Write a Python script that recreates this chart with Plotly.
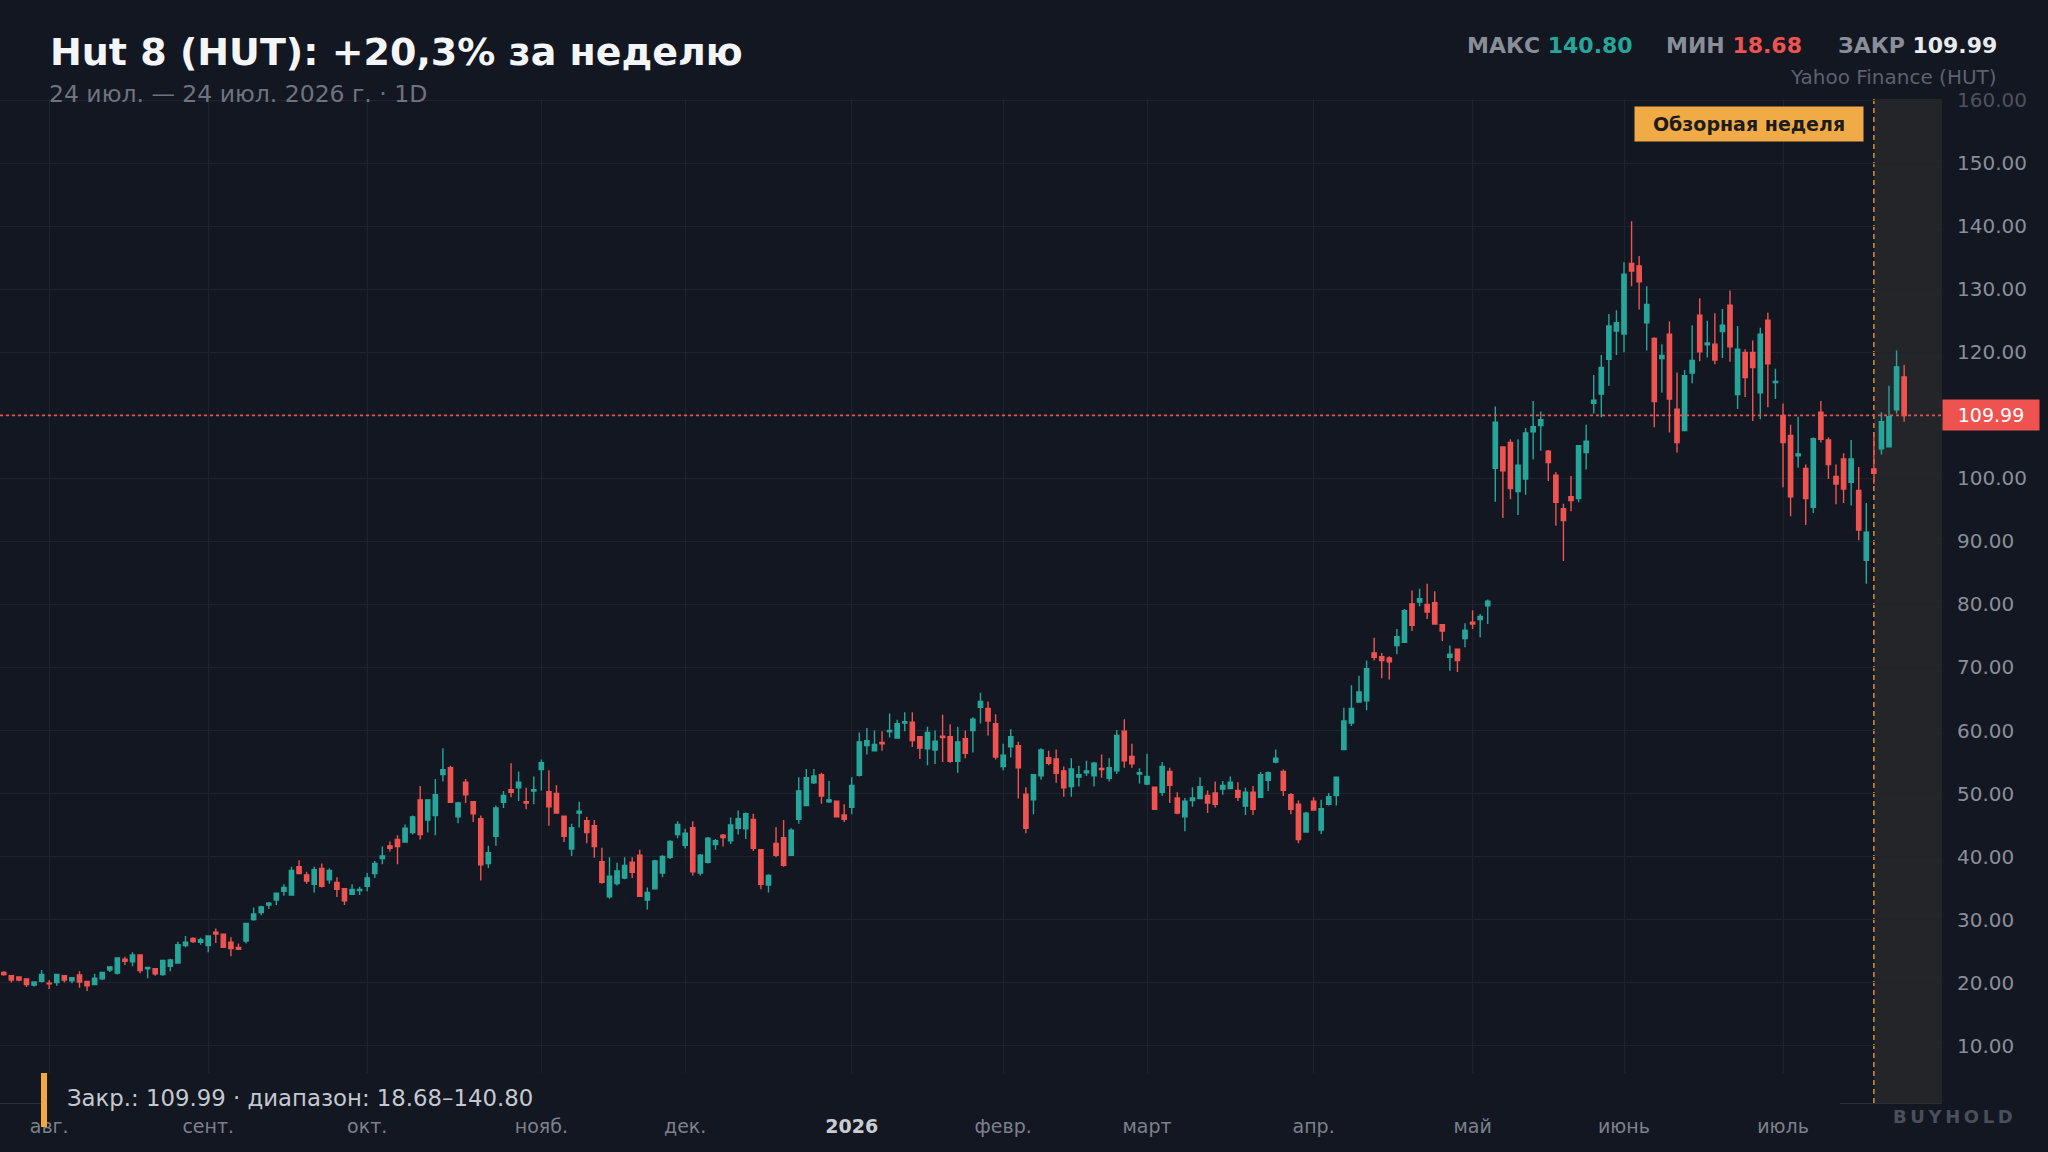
import pandas as pd
import plotly.graph_objects as go

# NYSE holidays inside the window (no candles on these days)
holidays = ["2025-09-01", "2025-11-27", "2025-12-25", "2026-01-01", "2026-01-19",
            "2026-02-16", "2026-04-03", "2026-05-25", "2026-06-19", "2026-07-03"]

open_ = [
    21.6, 21.1, 20.9, 20.6, 19.6, 20.2, 19.9, 20.0, 21.1, 20.3, 21.2, 20.2,
    19.7, 20.6, 22.0, 21.5, 23.7, 23.3, 24.4, 22.2, 22.2, 21.3, 22.6, 23.1,
    25.9, 27.0, 26.4, 25.9, 28.0, 27.7, 26.4, 25.6, 26.6, 30.0, 31.1, 32.3,
    33.1, 34.5, 33.9, 38.4, 37.1, 35.6, 38.1, 36.3, 35.9, 34.9, 34.0, 34.6,
    35.3, 37.3, 39.7, 41.7, 42.7, 42.3, 43.8, 49.0, 45.8, 46.5, 53.0, 54.1,
    46.3, 51.8, 48.7, 46.0, 38.9, 43.2, 48.6, 50.6, 50.9, 48.7, 50.4, 53.8,
    50.3, 50.0, 46.4, 41.2, 46.9, 45.7, 44.9, 39.2, 33.6, 35.7, 36.6, 39.1,
    40.2, 33.1, 34.9, 37.4, 39.9, 43.5, 41.8, 44.6, 37.4, 39.1, 41.9, 43.4,
    42.5, 44.5, 44.4, 45.9, 41.1, 35.5, 42.1, 43.0, 40.2, 45.9, 48.1, 51.7,
    53.0, 48.7, 48.8, 46.6, 47.8, 52.9, 57.6, 56.8, 58.1, 59.8, 58.8, 61.2,
    61.3, 59.0, 57.1, 56.9, 59.1, 59.0, 55.1, 58.7, 60.0, 63.7, 63.5, 61.1,
    54.3, 57.4, 57.6, 49.9, 49.0, 52.8, 55.7, 55.5, 53.6, 51.1, 52.6, 53.3,
    52.8, 54.0, 52.4, 53.6, 59.9, 55.9, 53.1, 51.5, 51.0, 50.2, 53.5, 49.3,
    46.3, 48.9, 49.2, 49.7, 50.1, 50.7, 50.8, 50.5, 48.0, 50.2, 49.4, 52.1,
    55.0, 53.5, 49.8, 48.3, 43.9, 48.8, 44.2, 48.3, 49.7, 57.0, 61.2, 64.5,
    64.7, 72.3, 71.7, 71.5, 73.5, 74.0, 80.1, 80.4, 80.0, 80.3, 76.8, 71.6,
    72.9, 74.6, 77.2, 77.6, 79.8, 101.6, 105.0, 105.7, 97.9, 99.9, 107.4, 108.4,
    104.3, 100.5, 95.2, 97.1, 96.8, 104.1, 111.9, 113.4, 118.9, 123.4, 122.9, 134.1,
    133.7, 124.7, 122.2, 119.0, 122.9, 111.0, 107.6, 116.7, 125.9, 121.2, 121.3, 123.3,
    127.5, 113.3, 120.0, 120.0, 113.6, 125.1, 115.2, 110.0, 106.8, 103.6, 101.6, 95.4,
    110.5, 106.1, 100.3, 103.1, 99.4, 98.1, 87.0, 101.5, 104.7, 105.0, 110.9, 116.1,
]
high = [
    21.8, 21.1, 21.0, 20.7, 20.2, 22.0, 20.4, 21.3, 21.2, 20.8, 21.8, 20.3,
    21.4, 21.6, 22.5, 23.9, 24.1, 24.8, 24.4, 22.4, 22.3, 23.6, 23.8, 26.5,
    27.4, 27.2, 27.1, 27.5, 28.6, 27.7, 27.2, 26.2, 29.4, 31.9, 32.2, 32.8,
    34.2, 35.6, 38.4, 39.4, 37.6, 38.4, 38.9, 38.1, 36.7, 34.9, 35.6, 35.2,
    37.4, 39.3, 41.6, 42.4, 43.4, 45.1, 46.5, 51.2, 49.0, 52.3, 57.2, 54.4,
    48.7, 52.3, 48.7, 46.5, 41.7, 48.1, 50.4, 54.8, 53.5, 50.9, 52.7, 55.4,
    53.7, 51.3, 46.4, 45.2, 48.7, 46.3, 45.8, 41.4, 39.9, 39.0, 39.9, 39.9,
    41.1, 35.1, 39.5, 40.2, 42.6, 45.6, 44.4, 45.6, 40.4, 43.1, 42.8, 43.6,
    46.2, 47.3, 47.0, 46.8, 41.1, 37.2, 44.7, 45.8, 44.5, 52.6, 53.9, 53.9,
    53.3, 52.0, 48.9, 48.3, 52.6, 59.7, 60.4, 60.0, 59.9, 62.7, 61.7, 62.9,
    62.9, 59.0, 60.6, 60.0, 62.5, 61.0, 60.6, 60.0, 62.1, 66.0, 64.6, 62.6,
    57.9, 60.2, 58.2, 51.0, 53.0, 57.2, 56.8, 57.0, 54.3, 55.6, 54.4, 55.2,
    55.0, 56.2, 55.6, 60.1, 61.8, 57.9, 54.0, 56.3, 51.1, 55.0, 54.1, 50.2,
    49.3, 51.0, 52.6, 50.5, 51.9, 52.0, 52.7, 51.8, 50.9, 51.2, 53.4, 53.5,
    57.0, 53.8, 50.1, 48.9, 47.1, 49.4, 49.0, 50.1, 52.6, 63.6, 67.2, 68.7,
    71.1, 74.7, 72.3, 71.8, 76.1, 79.3, 82.2, 82.5, 83.3, 82.1, 76.8, 73.5,
    72.9, 77.0, 79.1, 78.5, 80.8, 111.4, 105.0, 106.2, 106.2, 108.0, 112.3, 110.6,
    104.5, 101.0, 96.0, 100.4, 105.3, 108.5, 116.4, 119.6, 126.1, 126.7, 134.3, 140.8,
    135.3, 130.5, 122.4, 121.3, 124.9, 116.8, 117.2, 124.3, 128.6, 125.0, 126.2, 126.9,
    129.8, 124.2, 120.5, 121.9, 123.9, 126.3, 117.4, 111.9, 108.5, 109.8, 102.2, 106.5,
    112.3, 106.5, 102.2, 104.0, 106.1, 101.8, 96.1, 107.0, 110.5, 114.7, 120.3, 118.0,
]
low = [
    21.1, 20.0, 20.2, 19.3, 19.4, 20.0, 19.0, 19.5, 20.0, 19.9, 19.2, 18.68,
    19.7, 20.4, 21.7, 21.3, 22.8, 22.6, 21.5, 20.7, 21.1, 21.1, 21.8, 23.1,
    25.6, 26.3, 26.0, 24.8, 26.3, 25.6, 24.2, 25.3, 26.2, 29.8, 30.7, 31.7,
    32.3, 33.8, 33.9, 37.3, 35.7, 34.3, 35.1, 35.7, 33.6, 32.3, 34.0, 33.9,
    34.5, 36.6, 38.8, 40.8, 38.8, 42.2, 43.5, 42.7, 43.8, 43.4, 51.9, 48.6,
    45.3, 48.5, 45.5, 36.2, 38.2, 41.7, 47.7, 49.4, 48.8, 47.5, 48.3, 50.5,
    44.9, 46.9, 42.3, 40.1, 44.6, 42.1, 39.8, 35.7, 33.3, 35.4, 36.4, 36.6,
    33.6, 31.6, 34.9, 36.7, 39.6, 42.9, 41.3, 37.0, 37.0, 38.9, 41.1, 41.6,
    42.0, 43.5, 42.8, 40.9, 34.8, 34.3, 39.9, 38.4, 40.1, 45.2, 48.0, 51.5,
    48.4, 48.5, 46.2, 45.5, 46.7, 52.7, 56.2, 56.8, 56.8, 58.9, 58.7, 59.9,
    57.4, 55.5, 54.5, 54.7, 55.0, 54.9, 53.3, 55.6, 56.5, 61.1, 59.2, 55.4,
    53.7, 55.7, 49.2, 43.7, 46.7, 52.2, 54.5, 51.7, 49.5, 49.5, 51.1, 52.8,
    51.1, 52.5, 51.9, 53.1, 54.1, 54.1, 51.6, 51.3, 47.5, 49.6, 48.5, 46.7,
    44.0, 47.9, 49.2, 46.9, 47.8, 49.8, 50.8, 48.8, 46.6, 46.6, 49.3, 50.4,
    54.8, 49.6, 46.7, 42.1, 43.8, 47.3, 43.6, 48.1, 48.1, 57.0, 60.7, 64.5,
    63.2, 71.1, 68.3, 68.1, 72.1, 73.9, 75.8, 79.7, 77.7, 76.9, 74.2, 69.5,
    69.3, 73.2, 76.1, 74.8, 76.9, 96.3, 93.7, 96.7, 94.2, 97.4, 103.0, 104.4,
    99.6, 92.5, 86.9, 94.8, 96.2, 101.4, 110.3, 109.7, 114.7, 119.6, 120.0, 130.5,
    126.8, 120.3, 108.1, 113.6, 107.3, 104.1, 107.5, 115.1, 118.6, 119.2, 118.1, 119.1,
    118.5, 111.0, 112.9, 109.1, 109.4, 111.3, 112.6, 98.6, 94.0, 101.7, 92.6, 94.5,
    105.7, 99.9, 95.9, 96.1, 95.7, 90.2, 83.3, 99.1, 103.8, 105.0, 110.3, 109.0,
]
close = [
    21.3, 20.4, 20.4, 19.7, 20.1, 21.3, 19.8, 21.3, 20.4, 20.8, 20.1, 19.5,
    20.7, 21.6, 22.5, 23.9, 23.4, 24.4, 21.9, 22.4, 21.4, 23.5, 23.6, 26.0,
    26.4, 26.5, 26.8, 27.4, 27.7, 25.6, 25.4, 25.3, 29.4, 30.9, 32.0, 32.6,
    34.2, 35.1, 37.8, 37.3, 36.1, 37.9, 35.3, 37.8, 34.8, 33.0, 34.8, 34.8,
    36.6, 38.9, 40.1, 41.3, 41.6, 44.5, 46.3, 43.5, 49.0, 49.8, 53.8, 48.6,
    48.5, 49.8, 46.8, 38.7, 40.6, 47.7, 49.7, 50.2, 51.8, 48.5, 50.6, 54.9,
    47.9, 46.9, 43.2, 44.6, 47.2, 43.8, 41.6, 35.9, 36.9, 37.7, 38.6, 37.5,
    33.7, 34.3, 39.3, 40.0, 42.4, 45.1, 43.7, 37.6, 40.2, 42.9, 42.5, 43.0,
    45.0, 46.0, 46.8, 41.3, 35.6, 37.0, 40.2, 38.6, 44.2, 50.4, 52.5, 52.8,
    49.6, 49.0, 46.3, 45.9, 51.3, 58.2, 58.4, 57.8, 57.9, 60.0, 61.1, 61.4,
    58.4, 57.2, 59.7, 58.3, 58.9, 55.1, 58.2, 56.4, 61.8, 64.6, 61.5, 55.8,
    56.1, 59.0, 54.1, 44.5, 53.0, 56.9, 54.8, 53.2, 50.9, 53.9, 53.0, 53.6,
    54.8, 53.8, 54.1, 59.2, 55.2, 54.7, 53.3, 52.7, 47.5, 54.3, 51.3, 46.9,
    48.8, 49.3, 51.1, 48.5, 48.3, 51.3, 51.8, 49.4, 50.2, 47.5, 53.0, 53.3,
    55.6, 50.5, 47.5, 42.7, 46.9, 47.4, 47.6, 49.5, 52.6, 61.5, 63.5, 66.1,
    69.8, 71.6, 71.1, 70.9, 74.9, 79.0, 76.7, 80.9, 78.8, 76.9, 75.8, 72.1,
    71.1, 75.9, 76.9, 78.1, 80.5, 108.9, 101.2, 98.4, 102.1, 107.2, 108.2, 109.3,
    102.5, 96.2, 93.3, 96.5, 105.2, 105.9, 112.4, 117.6, 124.2, 124.7, 132.4, 132.9,
    131.2, 127.6, 112.2, 119.5, 112.6, 105.7, 116.3, 118.7, 120.1, 121.5, 118.8, 124.3,
    120.9, 120.5, 116.0, 117.6, 122.9, 118.2, 115.4, 105.7, 97.1, 103.9, 96.8, 106.3,
    106.2, 102.2, 99.1, 98.3, 103.1, 91.8, 91.45, 100.8, 109.0, 109.8, 117.7, 109.99,
]

month_labels = ["авг.", "сент.", "окт.", "нояб.", "дек.",
                "<span style='color:#c9ccd3'><b>2026</b></span>",
                "февр.", "март", "апр.", "май", "июнь", "июль"]
price_ticks = list(range(10, 161, 10))
review_start = "2026-07-20"

title = "Hut 8 (HUT): +20,3% за неделю"
subtitle = "24 июл. — 24 июл. 2026 г. · 1D"
stat_max, stat_min, stat_close = "140.80", "18.68", "109.99"
last_close = 109.99

dates = [d.strftime("%Y-%m-%d") for d in pd.bdate_range("2025-07-24", "2026-07-24")
         if d.strftime("%Y-%m-%d") not in holidays]
assert len(dates) == len(open_) == len(high) == len(low) == len(close)

# first trading day of each month -> month ticks
month_ticks = []
seen = set()
for d in dates:
    if d[:7] not in seen:
        seen.add(d[:7])
        month_ticks.append(d)
month_ticks = month_ticks[1:]  # skip partial July 2025

# top label sits under the header, so it is dimmed
price_text = [f"{v:.2f}" if v < 160 else f"<span style='color:#4e525c'>{v:.2f}</span>"
              for v in price_ticks]

BG = "#131722"
GREEN = "#26a69a"
RED = "#ef5350"
FONT = "DejaVu Sans"

W, H = 2048, 1152
PL, PR, PT, PB = 0, 1942, 99, 1103


def px(x):
    return (x - PL) / (PR - PL)


def py(y):
    return (PB - y) / (PB - PT)


fig = go.Figure(go.Candlestick(
    x=dates, open=open_, high=high, low=low, close=close,
    increasing=dict(line=dict(color=GREEN, width=1.4), fillcolor=GREEN),
    decreasing=dict(line=dict(color=RED, width=1.4), fillcolor=RED),
    whiskerwidth=0, showlegend=False, hoverinfo="skip",
))

review_idx = dates.index(review_start)

fig.update_layout(
    width=W, height=H,
    margin=dict(l=PL, r=W - PR, t=PT, b=H - PB),
    paper_bgcolor=BG, plot_bgcolor=BG,
    font=dict(family=FONT, color="#8a8e98"),
    boxgap=0.2,
    showlegend=False,
    hovermode=False,
)

fig.update_xaxes(
    type="category",
    range=[-0.5, 256],
    tickvals=month_ticks, ticktext=month_labels,
    tickfont=dict(size=19, color="#7d818c"),
    showgrid=True, gridcolor="#1f232d", gridwidth=1,
    ticks="", showline=True, linecolor="#2a2e39",
    ticklabelstandoff=6,
    rangeslider=dict(visible=False),
)

fig.update_yaxes(
    side="right",
    range=[0.9, 160.2],
    tickvals=price_ticks, ticktext=price_text,
    tickfont=dict(size=20, color="#8a8e98"),
    showgrid=True, gridcolor="#1f232d", gridwidth=1,
    zeroline=False, ticks="", ticklabelstandoff=14,
)

shapes = [
    # review week shading
    dict(type="rect", xref="x", yref="paper", x0=review_idx, x1=256, y0=0, y1=1,
         fillcolor="rgba(40,40,42,0.85)", line=dict(width=0), layer="below"),
    dict(type="line", xref="x", yref="paper", x0=review_idx, x1=review_idx, y0=0, y1=1,
         line=dict(color="#c98a2e", width=1.6, dash="5px,4px"), layer="between"),
    # last close line
    dict(type="line", xref="paper", yref="y", x0=0, x1=1, y0=last_close, y1=last_close,
         line=dict(color="#e5534f", width=1.8, dash="3px,3px"), layer="above"),
    # footer strip covering the grid bottom
    dict(type="rect", xref="paper", yref="paper", x0=px(47), x1=px(1840),
         y0=py(1110), y1=py(1073), fillcolor=BG, line=dict(width=0), layer="above"),
    dict(type="rect", xref="paper", yref="paper", x0=px(41), x1=px(47),
         y0=py(1127), y1=py(1073), fillcolor="#f5a93a", line=dict(width=0), layer="above"),
]
fig.update_layout(shapes=shapes)


def stat(label, value, color):
    return (f"<b><span style='color:#8a8e99'>{label}</span> "
            f"<span style='color:{color}'>{value}</span></b>")


annotations = [
    dict(text=title, x=px(48), y=py(52), xanchor="left", yanchor="middle",
         font=dict(size=38, color="#f4f5f7", weight="bold")),
    dict(text=subtitle, x=px(47), y=py(94), xanchor="left", yanchor="middle",
         font=dict(size=23.5, color="#6f7380")),
    dict(text=stat("МАКС", stat_max, GREEN), x=px(1635), y=py(45),
         xanchor="right", yanchor="middle", font=dict(size=22)),
    dict(text=stat("МИН", stat_min, RED), x=px(1804), y=py(45),
         xanchor="right", yanchor="middle", font=dict(size=22)),
    dict(text=stat("ЗАКР", stat_close, "#e8eaed"), x=px(1999), y=py(45),
         xanchor="right", yanchor="middle", font=dict(size=22)),
    dict(text="Yahoo Finance (HUT)", x=px(1999), y=py(77), xanchor="right",
         yanchor="middle", font=dict(size=20, color="#5d6170")),
    dict(text="<b>Обзорная неделя</b>", xref="x", x=review_idx, xanchor="right", xshift=-10,
         y=py(124), yanchor="middle", font=dict(size=19, color="#1c1c1c"),
         bgcolor="#f0ab47", borderpad=6, width=216, align="center"),
    dict(text=f"{last_close:.2f}", x=1, xanchor="left", yref="y", y=last_close,
         yanchor="middle", font=dict(size=19, color="#ffffff"),
         bgcolor=RED, borderpad=4, width=88, align="center"),
    dict(text=f"Закр.: {stat_close} · диапазон: {stat_min}–{stat_max}", x=px(65),
         y=py(1098), xanchor="left", yanchor="middle",
         font=dict(size=22.8, color="#c5c8cf")),
    dict(text="<b>" + "\u2009".join("BUYHOLD") + "</b>", x=px(2015), y=py(1116),
         xanchor="right", yanchor="middle", font=dict(size=18, color="#4b4f5b")),
]
for a in annotations:
    a.setdefault("xref", "paper")
    a.setdefault("yref", "paper")
    a["showarrow"] = False
fig.update_layout(annotations=annotations)

fig.write_html("out.html", config={"displayModeBar": False},
               post_script="document.body.style.margin='0';")
